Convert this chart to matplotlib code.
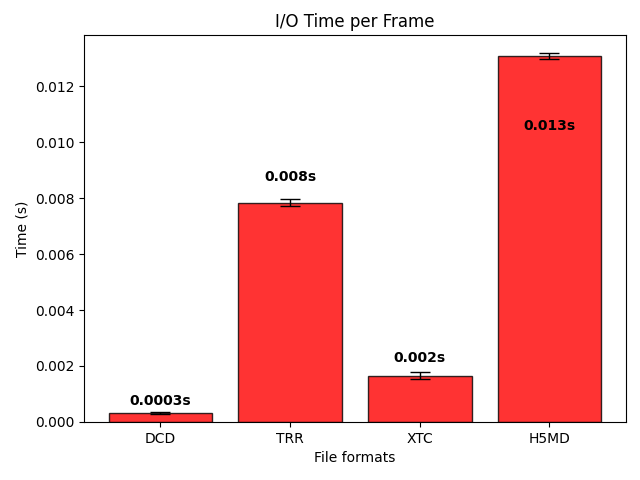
import matplotlib
matplotlib.use("Agg")
import matplotlib.pyplot as plt

formats = ["DCD", "TRR", "XTC", "H5MD"]
times = [0.00032, 0.00784, 0.00165, 0.01307]
errors = [0.00002, 0.00013, 0.00012, 0.0001]
labels = ["0.0003s", "0.008s", "0.002s", "0.013s"]
# offset of each text label from its bar top (H5MD sits inside the bar)
label_offsets = [0.00044, 0.0009, 0.00063, -0.0025]

fig, ax = plt.subplots(figsize=(6.4, 4.8), dpi=100)
x = range(len(formats))
ax.bar(x, times, yerr=errors, color="red", alpha=0.8, edgecolor="black",
       capsize=7, error_kw={"ecolor": "black", "elinewidth": 1})
for i, (t, lab, off) in enumerate(zip(times, labels, label_offsets)):
    ax.text(i, t + off, lab, ha="center", va="center", fontweight="bold")

ax.set_xticks(list(x))
ax.set_xticklabels(formats)
ax.set_xlabel("File formats")
ax.set_ylabel("Time (s)")
ax.set_title("I/O Time per Frame")
plt.subplots_adjust(left=0.13125, right=0.978, top=0.927, bottom=0.121)
plt.savefig("out.png")
